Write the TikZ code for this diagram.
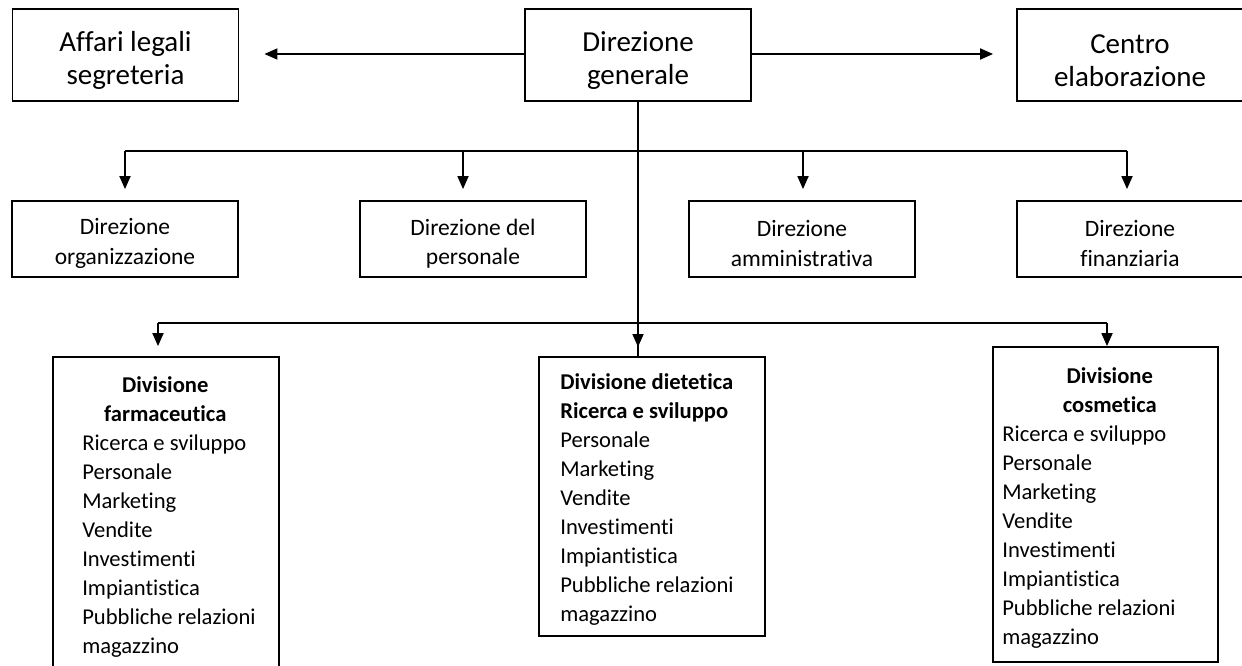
\documentclass[tikz,border=0pt]{standalone}
\usepackage{fontspec}
\setmainfont{Carlito}[Ligatures={NoCommon}]
\usetikzlibrary{
  arrows.meta,
  positioning,
  calc
}

\begin{document}
\begin{tikzpicture}[
      x=1pt,y=-1pt,
      box/.style={
         rectangle,
         draw=black,
         line width=1.8pt,
         inner sep=0pt
      },
      top box/.style={
         box,
         minimum width=226pt,
         minimum height=92pt
      },
      mid box/.style={
         box,
         minimum width=226pt,
         minimum height=76pt
      },
      div box/.style={
         box,
         minimum width=226pt
      },
      top text/.style={
         inner sep=0pt,
         align=center,
         font=\fontsize{29}{33}\selectfont
      },
      mid text/.style={
         inner sep=0pt,
         align=center,
         font=\fontsize{23.5}{29.5}\selectfont
      },
      div text/.style={
         anchor=north west,
         inner sep=0pt,
         align=left,
         font=\fontsize{22.6}{29}\selectfont
      },
      point/.style={coordinate},
      line/.style={line width=1.8pt},
      tip/.style={line,-{Triangle[length=13pt,width=11pt]}}
    ]
    \useasboundingbox (0,0) rectangle (1242,666);
    % top row
    \node (n11) [top box] at (125.5,55) {};
    \node (n12) [top box] at (638,55) {};
    \node (n13) [top box] at (1130,55) {};
    \node (t11) [top text] at ($(n11)+(0,5.5)$) {Affari legali\\segreteria};
    \node (t12) [top text] at ($(n12)+(0,5.5)$) {Direzione\\generale};
    \node (t13) [top text] at ($(n13)+(0,5.5)$) {Centro\\elaborazione};
    \node (p11) [point] at (525,54) {};
    \node (p12) [point] at (751,54) {};
    \draw[tip, shorten >=25pt] (p11) -- (p11 -| n11.east);
    \draw[tip, shorten >=23pt] (p12) -- (p12 -| n13.west);
    % second row
    \node (n21) [mid box] at (125,239) {};
    \node (n22) [mid box] at (473,239) {};
    \node (n23) [mid box] at (802,239) {};
    \node (n24) [mid box] at (1130,239) {};
    \node (t21) [mid text] at ($(n21)+(0,4.5)$) {Direzione\\organizzazione};
    \node (t22) [mid text] at ($(n22)+(0,4.5)$) {Direzione del\\personale};
    \node (t23) [mid text] at ($(n23)+(0,4.5)$) {Direzione\\amministrativa};
    \node (t24) [mid text] at ($(n24)+(0,4.5)$) {Direzione\\finanziaria};
    \node (p21) [point] at (125,151) {};
    \node (p22) [point] at (463,151) {};
    \node (p23) [point] at (803,151) {};
    \node (p24) [point] at (1127,151) {};
    \draw[line] (p21) -- (p24);
    \draw[tip, shorten >=11pt] (p21) -- (p21 |- n21.north);
    \draw[tip, shorten >=11pt] (p22) -- (p22 |- n22.north);
    \draw[tip, shorten >=11pt] (p23) -- (p23 |- n23.north);
    \draw[tip, shorten >=11pt] (p24) -- (p24 |- n24.north);
    % divisions
    \node (n31) [div box, minimum height=333pt] at (166,523.5) {};
    \node (n32) [div box, minimum height=279pt] at (652,496.5) {};
    \node (n33) [div box, minimum width=225pt, minimum height=315pt] at (1105.5,504.5) {};
    \node (p31) [point] at (158,323) {};
    \node (p32) [point] at (638,347) {};
    \node (p33) [point] at (1107,323) {};
    \draw[line] (n12.south) -- (n12.south |- n32.north);
    \draw[tip] (n12.south) -- (p32);
    \draw[line] (p31) -- (p33);
    \draw[tip, shorten >=10pt] (p31) -- (p31 |- n31.north);
    \draw[tip] (p33) -- (p33 |- n33.north);
    \node (t31) [div text] at ($(n31.north west)+(30,20)$) {%
      \makebox[166pt]{\textbf{Divisione}}\\
      \makebox[166pt]{\textbf{farmaceutica}}\\
      Ricerca e sviluppo\\Personale\\Marketing\\Vendite\\Investimenti\\
      Impiantistica\\Pubbliche relazioni\\magazzino};
    \node (t32) [div text] at ($(n32.north west)+(22,17)$) {%
      \textbf{Divisione dietetica}\\
      \textbf{Ricerca e sviluppo}\\
      Personale\\Marketing\\Vendite\\Investimenti\\
      Impiantistica\\Pubbliche relazioni\\magazzino};
    \node (t33) [div text] at ($(n33.north west)+(10,21)$) {%
      \makebox[215pt]{\textbf{Divisione}}\\
      \makebox[215pt]{\textbf{cosmetica}}\\
      Ricerca e sviluppo\\Personale\\Marketing\\Vendite\\Investimenti\\
      Impiantistica\\Pubbliche relazioni\\magazzino};
\end{tikzpicture}
\end{document}
